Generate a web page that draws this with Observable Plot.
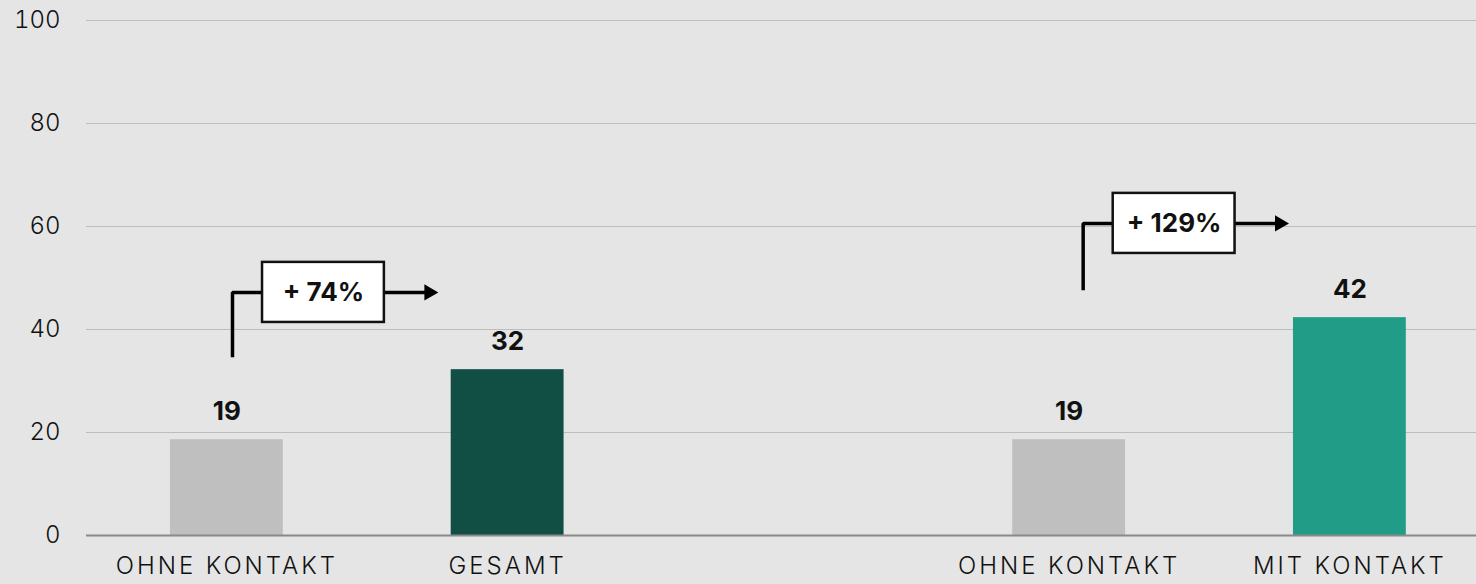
<!DOCTYPE html>
<html><head><meta charset="utf-8">
<script src="https://cdn.jsdelivr.net/npm/d3@7"></script>
<script src="https://cdn.jsdelivr.net/npm/@observablehq/plot@0.6"></script>
<style>
html,body{margin:0;padding:0;background:#e5e5e5;}
#chart svg{display:block;}
#chart g[aria-label="x-axis tick label"] text{letter-spacing:3px;}
</style>
</head><body><div id="chart"></div>
<script>
// categories on the x axis (slot 2 is an empty spacer)
const categories = ["OHNE KONTAKT", "GESAMT", "", "OHNE KONTAKT", "MIT KONTAKT"];
const barSlots = [0, 1, 3, 4];
const barValues = [18.6, 32.2, 18.6, 42.3];
const barColors = ["#bfbfbf", "#114e43", "#bfbfbf", "#219c87"];
const yTicks = [0, 20, 40, 60, 80, 100];

// change annotations
const changeLabels = ["+ 74%", "+ 129%"];
const changeFromX = [0.02, 3.05];
const changeBase = [34.6, 47.6];
const changeLevel = [47.2, 60.6];

const FONT = "Inter, 'Open Sans', sans-serif";

const bars = barSlots.map((s, i) => ({slot: s, value: barValues[i], color: barColors[i]}));
const ann = changeLabels.map((l, i) => ({label: l, x: changeFromX[i], base: changeBase[i], level: changeLevel[i], g: i}));
const bracket = ann.flatMap(a => [
  {g: a.g, x: a.x, y: a.base},
  {g: a.g, x: a.x, y: a.level},
  {g: a.g, x: a.x + 0.107, y: a.level}
]);

const chart = Plot.plot({
  width: 1476,
  height: 584,
  marginLeft: 86,
  marginRight: 0,
  marginTop: 20,
  marginBottom: 49,
  style: {background: "#e5e5e5", fontFamily: FONT, color: "#111"},
  x: {type: "linear", domain: [-0.5, 4.451]},
  y: {domain: [0, 100]},
  marks: [
    Plot.gridY(yTicks, {stroke: "#bdbdbd", strokeOpacity: 1, strokeWidth: 1}),
    Plot.axisY({ticks: yTicks, tickSize: 0, tickPadding: 26, fontSize: 24, label: null, fontWeight: 300}),
    Plot.axisX({ticks: barSlots, tickFormat: i => categories[i], tickSize: 0, tickPadding: 21, fontSize: 24, label: null, fontWeight: 300}),
    Plot.rectY(bars, {x1: d => d.slot - 0.201, x2: d => d.slot + 0.201, y1: 0, y2: "value", fill: "color"}),
    Plot.ruleY([0], {stroke: "#8a8a8a", strokeWidth: 2}),
    Plot.text(bars, {x: "slot", y: "value", text: d => String(Math.round(d.value)), dy: -28, fontSize: 26, fontWeight: "bold", fill: "#111"}),
    Plot.line(bracket, {x: "x", y: "y", z: "g", stroke: "#000", strokeWidth: 3.5, strokeLinejoin: "miter", strokeLinecap: "butt"}),
    Plot.link(ann, {x1: d => d.x + 0.541, x2: d => d.x + 0.69, y1: "level", y2: "level", stroke: "#000", strokeWidth: 3.5}),
    Plot.dot(ann, {x: d => d.x + 0.70, y: "level", symbol: "triangle", r: 6, rotate: 90, fill: "#000", stroke: null}),
    Plot.rect(ann, {x1: d => d.x + 0.107, x2: d => d.x + 0.541, y1: d => d.level - 5.83, y2: d => d.level + 5.83, fill: "#fff", stroke: "#111", strokeWidth: 2.5}),
    Plot.text(ann, {x: d => d.x + 0.324, y: "level", text: "label", fontSize: 26, fontWeight: "bold", fill: "#111"})
  ]
});
document.getElementById("chart").appendChild(chart);
</script>
</body></html>
